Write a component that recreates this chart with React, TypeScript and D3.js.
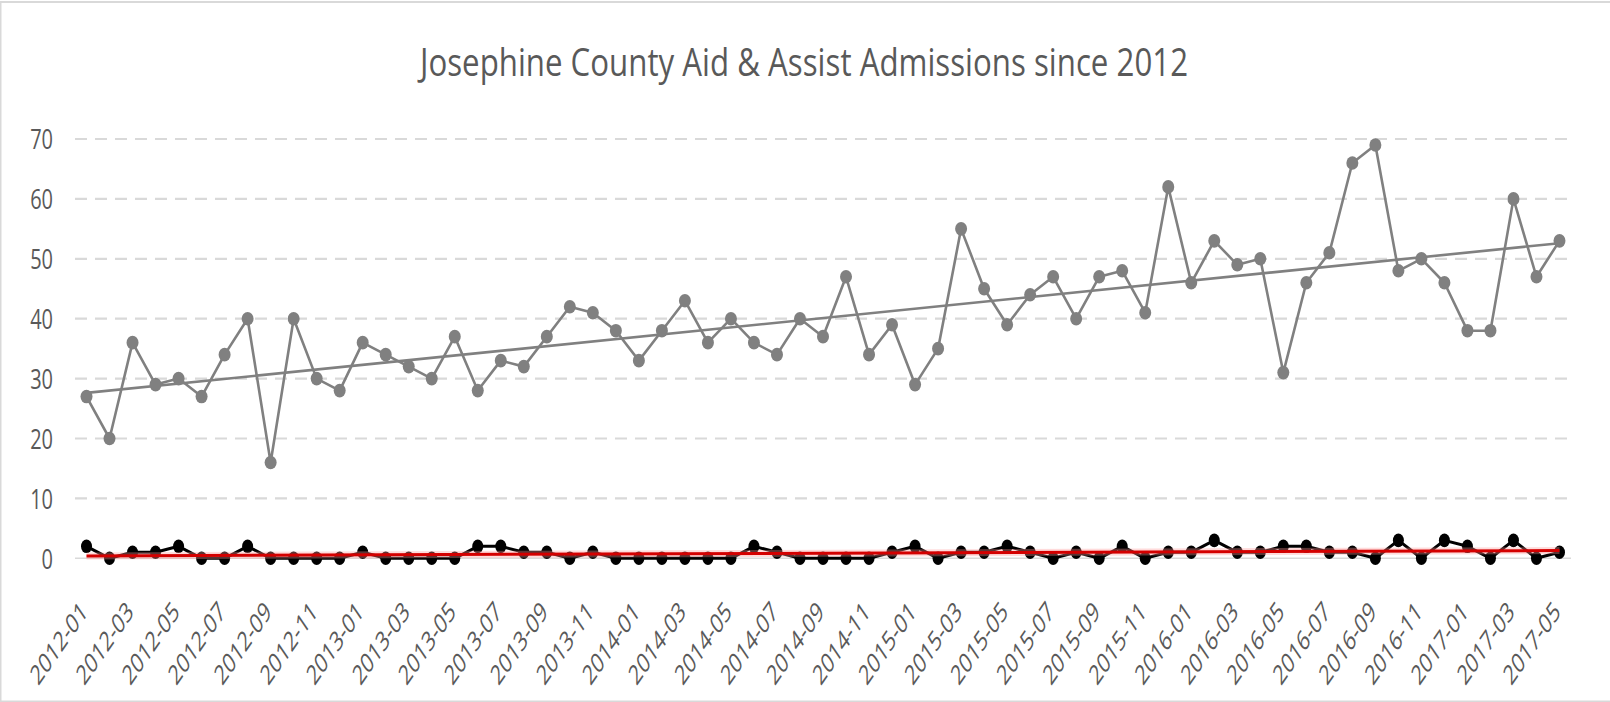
import React from "react";
import * as d3 from "d3";

const categories: string[] = [
  "2012-01","2012-02","2012-03","2012-04","2012-05","2012-06","2012-07","2012-08","2012-09","2012-10","2012-11","2012-12",
  "2013-01","2013-02","2013-03","2013-04","2013-05","2013-06","2013-07","2013-08","2013-09","2013-10","2013-11","2013-12",
  "2014-01","2014-02","2014-03","2014-04","2014-05","2014-06","2014-07","2014-08","2014-09","2014-10","2014-11","2014-12",
  "2015-01","2015-02","2015-03","2015-04","2015-05","2015-06","2015-07","2015-08","2015-09","2015-10","2015-11","2015-12",
  "2016-01","2016-02","2016-03","2016-04","2016-05","2016-06","2016-07","2016-08","2016-09","2016-10","2016-11","2016-12",
  "2017-01","2017-02","2017-03","2017-04","2017-05",
];

const admissions: number[] = [
  27, 20, 36, 29, 30, 27, 34, 40, 16, 40, 30, 28,
  36, 34, 32, 30, 37, 28, 33, 32, 37, 42, 41, 38,
  33, 38, 43, 36, 40, 36, 34, 40, 37, 47, 34, 39,
  29, 35, 55, 45, 39, 44, 47, 40, 47, 48, 41, 62,
  46, 53, 49, 50, 31, 46, 51, 66, 69, 48, 50, 46,
  38, 38, 60, 47, 53,
];

const secondSeries: number[] = [
  2, 0, 1, 1, 2, 0, 0, 2, 0, 0, 0, 0,
  1, 0, 0, 0, 0, 2, 2, 1, 1, 0, 1, 0,
  0, 0, 0, 0, 0, 2, 1, 0, 0, 0, 0, 1,
  2, 0, 1, 1, 2, 1, 0, 1, 0, 2, 0, 1,
  1, 3, 1, 1, 2, 2, 1, 1, 0, 3, 0, 3,
  2, 0, 3, 0, 1,
];

const yTicks: number[] = [0, 10, 20, 30, 40, 50, 60, 70];
const xTickLabels: string[] = categories.filter((_, i) => i % 2 === 0);
const title = "Josephine County Aid & Assist Admissions since 2012";

function linearFit(vals: number[]): [number, number] {
  const n = vals.length;
  const xs = vals.map((_, i) => i);
  const mx = d3.mean(xs) as number;
  const my = d3.mean(vals) as number;
  let num = 0, den = 0;
  for (let i = 0; i < n; i++) {
    num += (xs[i] - mx) * (vals[i] - my);
    den += (xs[i] - mx) * (xs[i] - mx);
  }
  const slope = num / den;
  return [my - slope * mx, slope];
}

const W = 1610;
const H = 702;
const K = 1.35; // vertical stretch of the text
const KX = 1.45; // vertical stretch of the rotated labels
const FONT = "'Open Sans', 'Liberation Sans', sans-serif";

export default function App() {
  const x = d3.scaleBand<string>().domain(categories).range([75, 1571]).padding(0);
  const cx = (i: number) => (x(categories[i]) as number) + x.bandwidth() / 2;
  const y = d3.scaleLinear().domain([0, 70]).range([558.3, 139]);

  const line = d3.line<number>().x((_, i) => cx(i)).y((d) => y(d));

  const [a1, b1] = linearFit(admissions);
  const [a2, b2] = linearFit(secondSeries);
  const n = categories.length;
  const trend1 = [a1, a1 + b1 * (n - 1)];
  const trend2 = [a2, a2 + b2 * (n - 1)];
  const trendLine = d3.line<number>().x((_, i) => cx(i * (n - 1))).y((d) => y(d));

  return (
    <div style={{ position: "absolute", left: 0, top: 0, width: W, height: H, overflow: "hidden", background: "#fff" }}>
      <svg width={W} height={H} style={{ display: "block" }}>
        <rect x={0} y={0} width={W} height={H} fill="#fff" />
        <rect x={0.5} y={2} width={W + 10} height={H - 2.5} fill="none" stroke="#d9d9d9" strokeWidth={2} />

        <text
          transform={`translate(804,75.7) scale(1,${K})`}
          textAnchor="middle"
          fontFamily={FONT}
          fontSize={28}
          fill="#595959"
          textLength={768}
          lengthAdjust="spacingAndGlyphs"
        >
          {title}
        </text>

        {yTicks.map((t) =>
          t === 0 ? (
            <line key={t} x1={75} x2={1571} y1={y(t)} y2={y(t)} stroke="#d9d9d9" strokeWidth={1.5} />
          ) : (
            <line key={t} x1={75} x2={1571} y1={y(t)} y2={y(t)} stroke="#d9d9d9" strokeWidth={2.2} strokeDasharray="12 8" />
          )
        )}

        {yTicks.map((t) => (
          <text
            key={"yl" + t}
            transform={`translate(53,${y(t)}) scale(1,${K})`}
            textAnchor="end"
            dominantBaseline="central"
            fontFamily={FONT}
            fontSize={20}
            fill="#595959"
          >
            {t}
          </text>
        ))}

        {xTickLabels.map((lab) => {
          const i = categories.indexOf(lab);
          return (
            <text
              key={"xl" + lab}
              transform={`translate(${cx(i) - 3},606) scale(1,${KX}) rotate(-45)`}
              textAnchor="end"
              dominantBaseline="central"
              fontFamily={FONT}
              fontSize={19}
              fill="#595959"
            >
              {lab}
            </text>
          );
        })}

        {/* gray series */}
        <path d={line(admissions) as string} fill="none" stroke="#808080" strokeWidth={2.6} strokeLinejoin="round" />
        {admissions.map((v, i) => (
          <ellipse key={"g" + i} cx={cx(i)} cy={y(v)} rx={6} ry={6.8} fill="#808080" />
        ))}
        <path d={trendLine(trend1) as string} fill="none" stroke="#808080" strokeWidth={2.6} />

        {/* black series */}
        <path d={line(secondSeries) as string} fill="none" stroke="#000" strokeWidth={3} strokeLinejoin="round" />
        {secondSeries.map((v, i) => (
          <ellipse key={"b" + i} cx={cx(i)} cy={y(v)} rx={5.5} ry={6.8} fill="#000" />
        ))}
        <path d={trendLine(trend2) as string} fill="none" stroke="#ff9999" strokeOpacity={0.35} strokeWidth={7} />
        <path d={trendLine(trend2) as string} fill="none" stroke="#d40000" strokeWidth={3} />
      </svg>
    </div>
  );
}
